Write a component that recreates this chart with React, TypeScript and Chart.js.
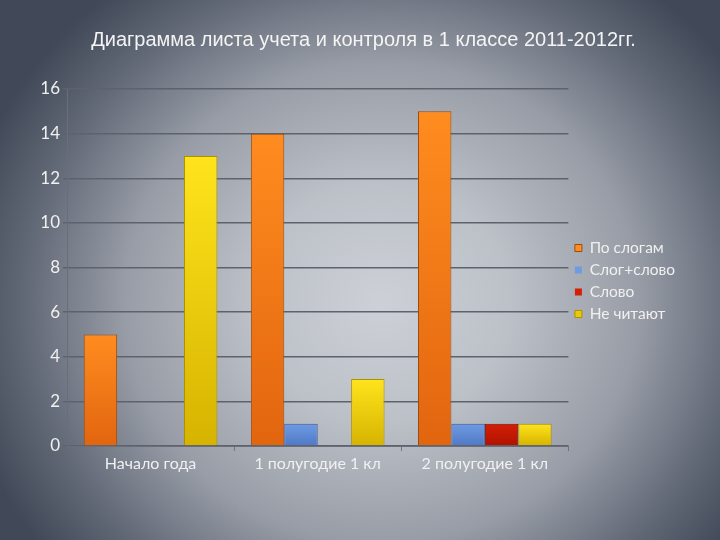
import React, { useEffect, useRef } from "react";
import { Chart, registerables } from "chart.js";

Chart.register(...registerables);

const titleText = "Диаграмма листа учета и контроля в 1 классе 2011-2012гг.";
const categories = ["Начало года", "1 полугодие 1 кл", "2 полугодие 1 кл"];
const seriesNames = ["По слогам", "Слог+слово", "Слово", "Не читают"];
const poSlogam = [5, 14, 15];
const slogSlovo = [0, 1, 1];
const slovo = [0, 0, 1];
const neChitayut = [13, 3, 1];
const yMin = 0;
const yMax = 16;
const yStep = 2;

const palette = [
  { top: "#ff8c1f", bottom: "#e2650f", border: "#9a4c10" },
  { top: "#6f9be3", bottom: "#4f78c6", border: "#3a5896" },
  { top: "#d41e06", bottom: "#b01200", border: "#7a1000" },
  { top: "#ffe41c", bottom: "#d6b300", border: "#ad9200" },
];

export default function App() {
  const ref = useRef<HTMLCanvasElement>(null);

  useEffect(() => {
    document.body.style.margin = "0";
    if (!ref.current) return;

    const makeFill = (idx: number) => (c: any) => {
      const p = palette[idx];
      const chart = c.chart;
      const ys = chart.scales && chart.scales.y;
      if (!ys || c.type !== "data" || !chart.chartArea) return p.top;
      const v = c.raw as number;
      const y0 = ys.getPixelForValue(0);
      const y1 = ys.getPixelForValue(v);
      if (!isFinite(y0) || !isFinite(y1) || y0 === y1) return p.top;
      const g = chart.ctx.createLinearGradient(0, y1, 0, y0);
      g.addColorStop(0, p.top);
      g.addColorStop(1, p.bottom);
      return g;
    };

    const seriesValues = [poSlogam, slogSlovo, slovo, neChitayut];
    const nLines = categories.length + 1;

    const chart = new Chart(ref.current, {
      type: "bar",
      data: {
        labels: categories,
        datasets: seriesNames.map((name, i) => ({
          label: name,
          data: seriesValues[i],
          backgroundColor: makeFill(i),
          borderColor: palette[i].border,
          borderWidth: (c: any) => (c.raw === 0 ? 0 : 1),
          categoryPercentage: 0.8,
          barPercentage: 1.0,
        })),
      },
      options: {
        animation: false,
        responsive: false,
        layout: { padding: { top: 22, right: 35, bottom: 0, left: 42 } },
        plugins: {
          title: {
            display: true,
            text: titleText,
            color: "#f4f4f4",
            font: { family: "'Liberation Sans', Arial, sans-serif", size: 20, weight: "normal" },
            padding: { top: 6, bottom: 37 },
          },
          legend: {
            position: "right",
            align: "center",
            labels: {
              color: "#f0f0f0",
              font: { family: "Lato, 'Open Sans', sans-serif", size: 15.5 },
              boxWidth: 7,
              boxHeight: 7,
              padding: 6.5,
            },
          },
          tooltip: { enabled: false },
        },
        scales: {
          x: {
            grid: {
              display: true,
              drawOnChartArea: false,
              drawTicks: true,
              tickLength: 5,
              color: "#70747e",
              tickColor: (c: any) =>
                c.index === 0 || c.index === nLines - 1 ? "rgba(0,0,0,0)" : "#70747e",
              offset: true,
            },
            border: { display: true, color: "#6a6e78", width: 1 },
            ticks: {
              color: "#f0f0f0",
              font: { family: "Lato, 'Open Sans', sans-serif", size: 16 },
              padding: 3,
            },
            afterFit: (s: any) => {
              s.height = 94;
            },
          },
          y: {
            min: yMin,
            max: yMax,
            ticks: {
              stepSize: yStep,
              color: "#f0f0f0",
              font: { family: "Lato, 'Open Sans', sans-serif", size: 17 },
              padding: 3,
            },
            grid: {
              color: "#5e626c",
              lineWidth: 1.5,
              tickLength: 4,
            },
            border: { display: true, color: "#6a6e78", width: 1 },
            afterFit: (s: any) => {
              s.width = 25;
            },
          },
        },
      },
    });

    return () => chart.destroy();
  }, []);

  return (
    <div
      style={{
        position: "fixed",
        left: 0,
        top: 0,
        width: 720,
        height: 540,
        background:
          "radial-gradient(ellipse 430px 400px at 53% 56%, #cdd0d7 0%, #bcc0c7 30%, #979ca6 60%, #5d6472 85%, #414857 100%)",
      }}
    >
      <canvas ref={ref} width={720} height={540} />
    </div>
  );
}
